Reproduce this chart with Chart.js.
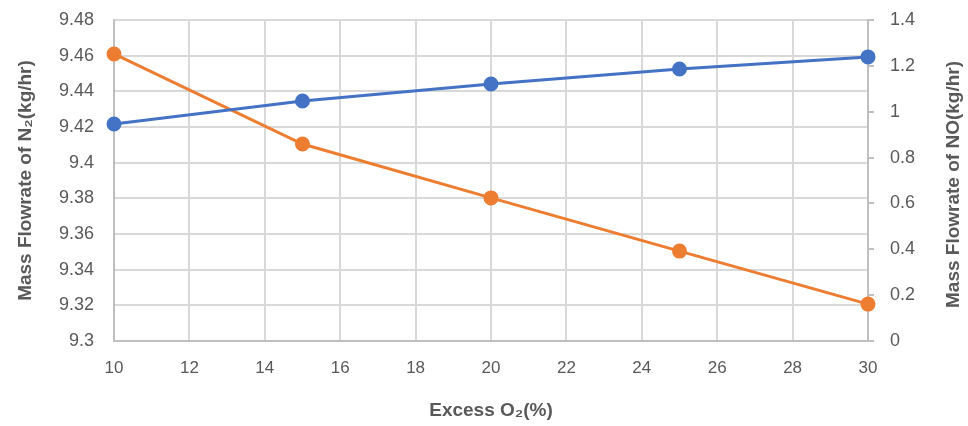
<!DOCTYPE html>
<html>
<head>
<meta charset="utf-8">
<script src="https://cdn.jsdelivr.net/npm/chart.js@4"></script>
<style>
  html, body { margin: 0; padding: 0; background: #fff; }
  #wrap { width: 968px; height: 426px; }
</style>
</head>
<body>
<div id="wrap"><canvas id="chart" width="968" height="426"></canvas></div>
<script>
// excess O2 (%)
const excessO2 = [10, 15, 20, 25, 30];
// N2 mass flowrate, left axis (kg/hr)
const n2Flow = [9.4217, 9.4346, 9.4441, 9.4525, 9.4593];
// NO mass flowrate, right axis (kg/hr)
const noFlow = [1.252, 0.859, 0.624, 0.392, 0.161];

const xTitle = 'Excess O\u2082(%)';
const leftTitle = 'Mass Flowrate of N\u2082(kg/hr)';
const rightTitle = 'Mass Flowrate of NO(kg/hr)';

const fontFam = "'Liberation Sans', sans-serif";
const gridCol = '#d9d9d9';
const textCol = '#595959';

function toPoints(xs, ys) {
    return xs.map(function(x, i) { return { x: x, y: ys[i] }; });
}

// right axis title reads bottom-to-top, like the left one
const rightTitlePlugin = {
    id: 'rightTitle',
    afterDraw: function(chart) {
        var c = chart.ctx;
        var area = chart.chartArea;
        c.save();
        c.translate(954, (area.top + area.bottom) / 2 + 4);
        c.rotate(-Math.PI / 2);
        c.fillStyle = textCol;
        c.font = "bold 19px " + fontFam;
        c.textAlign = 'center';
        c.textBaseline = 'middle';
        c.fillText(rightTitle, 0, 0);
        c.restore();
    }
};

var ctx = document.getElementById('chart').getContext('2d');
new Chart(ctx, {
    type: 'line',
    data: {
        datasets: [{
            label: 'N2',
            data: toPoints(excessO2, n2Flow),
            yAxisID: 'y',
            borderColor: '#4472C4',
            backgroundColor: '#4472C4',
            borderWidth: 3,
            pointRadius: 6,
            pointHoverRadius: 6,
            clip: false
        }, {
            label: 'NO',
            data: toPoints(excessO2, noFlow),
            yAxisID: 'y1',
            borderColor: '#ED7D31',
            backgroundColor: '#ED7D31',
            borderWidth: 3,
            pointRadius: 6,
            pointHoverRadius: 6,
            clip: false
        }]
    },
    options: {
        responsive: false,
        animation: false,
        layout: { padding: { top: 20, left: 0, right: 0, bottom: 0 } },
        plugins: { legend: { display: false }, tooltip: { enabled: false } },
        scales: {
            x: {
                type: 'linear',
                min: 10,
                max: 30,
                ticks: { stepSize: 2, color: textCol, font: { family: fontFam, size: 17 }, padding: 17 },
                grid: { color: gridCol, lineWidth: 2, drawTicks: false },
                border: { color: '#bfbfbf', width: 2 },
                title: { display: true, text: xTitle, color: textCol, font: { family: fontFam, size: 19, weight: 'bold' }, padding: { top: 14 } },
                afterFit: function(scale) { scale.height = 85; }
            },
            y: {
                position: 'left',
                min: 9.3,
                max: 9.48,
                ticks: {
                    stepSize: 0.02,
                    color: textCol,
                    font: { family: fontFam, size: 18 },
                    padding: 20,
                    callback: function(v) { return String(parseFloat(v.toFixed(2))); }
                },
                grid: { color: gridCol, lineWidth: 2, drawTicks: false },
                border: { color: '#bfbfbf', width: 2 },
                title: { display: true, text: leftTitle, color: textCol, font: { family: fontFam, size: 19, weight: 'bold' }, padding: { top: 14 } },
                afterFit: function(scale) {
                    scale.width = 114;
                    scale.paddingTop = 10;
                    scale.paddingBottom = 10;
                }
            },
            y1: {
                position: 'right',
                min: 0,
                max: 1.4,
                ticks: {
                    stepSize: 0.2,
                    color: textCol,
                    font: { family: fontFam, size: 18 },
                    padding: 16,
                    callback: function(v) { return String(parseFloat(v.toFixed(1))); }
                },
                grid: { drawOnChartArea: false, color: '#bfbfbf', lineWidth: 2, tickLength: 6 },
                border: { color: '#bfbfbf', width: 2 },
                title: { display: false },
                afterFit: function(scale) {
                    scale.width = 100;
                    scale.paddingTop = 10;
                    scale.paddingBottom = 10;
                }
            }
        }
    },
    plugins: [rightTitlePlugin]
});
</script>
</body>
</html>
